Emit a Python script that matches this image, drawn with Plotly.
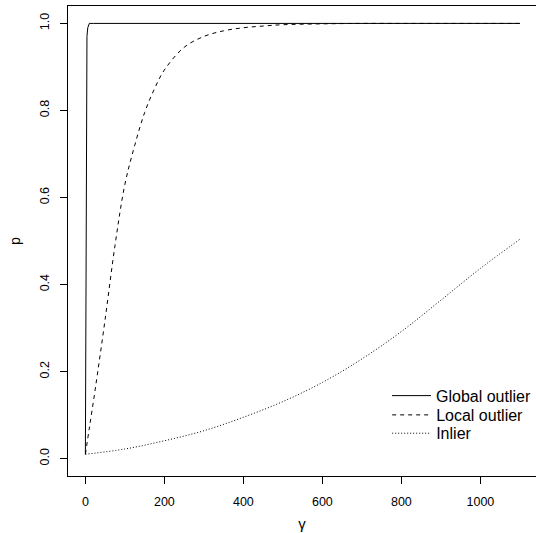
import plotly.graph_objects as go

# Data
global_gamma = [0, 1, 2, 3, 4, 6, 8, 10, 20, 100, 500, 1100]
global_p = [0.01, 0.30, 0.75, 0.93, 0.97, 0.99, 0.997, 1.0, 1.0, 1.0, 1.0, 1.0]

local_gamma = [0, 10, 25, 50, 75, 100, 125, 150, 175, 200, 250, 300, 350, 400,
               450, 500, 600, 700, 800, 900, 1000, 1100]
local_p = [0.01, 0.07, 0.16, 0.32, 0.49, 0.63, 0.72, 0.795, 0.85, 0.893, 0.945,
           0.970, 0.983, 0.990, 0.994, 0.997, 0.999, 1.0, 1.0, 1.0, 1.0, 1.0]

inlier_gamma = [0, 100, 200, 300, 400, 500, 600, 700, 800, 900, 1000, 1100]
inlier_p = [0.01, 0.022, 0.041, 0.064, 0.095, 0.131, 0.175, 0.229, 0.292,
            0.364, 0.437, 0.504]

x_ticks = [0, 200, 400, 600, 800, 1000]
y_ticks = [0.0, 0.2, 0.4, 0.6, 0.8, 1.0]
y_tick_labels = ["0.0", "0.2", "0.4", "0.6", "0.8", "1.0"]

series_names = ["Global outlier", "Local outlier", "Inlier"]

FONT = "Liberation Sans, Arial, Helvetica, sans-serif"

fig = go.Figure()
fig.add_trace(go.Scatter(x=global_gamma, y=global_p, mode="lines",
                         name=series_names[0], legend="legend",
                         line=dict(color="black", width=1, dash="solid")))
fig.add_trace(go.Scatter(x=local_gamma, y=local_p, mode="lines",
                         name=series_names[1], line_shape="spline",
                         legend="legend2",
                         line=dict(color="black", width=1, dash="4px,4px")))
fig.add_trace(go.Scatter(x=inlier_gamma, y=inlier_p, mode="lines",
                         name=series_names[2], line_shape="spline",
                         legend="legend3",
                         line=dict(color="black", width=1, dash="1px,2px")))

leg_common = dict(xanchor="left", yanchor="top", bgcolor="rgba(0,0,0,0)",
                  borderwidth=0, font=dict(size=16, family=FONT),
                  itemwidth=39)

fig.update_layout(
    width=536, height=533,
    margin=dict(l=68, r=0, t=6, b=57),
    paper_bgcolor="white", plot_bgcolor="white",
    font=dict(family=FONT, size=12, color="black"),
    showlegend=True,
    legend=dict(x=0.682, y=0.207, **leg_common),
    legend2=dict(x=0.682, y=0.166, **leg_common),
    legend3=dict(x=0.682, y=0.127, **leg_common),
    xaxis=dict(range=[-44, 1140.8], tickvals=x_ticks, ticks="outside",
               ticklen=7, tickcolor="black", showline=True, linecolor="black",
               linewidth=1, mirror=True, showgrid=False, zeroline=False,
               tickfont=dict(size=12.5), ticklabelstandoff=7, automargin=False,
               title=dict(text="γ", font=dict(size=15), standoff=10)),
    yaxis=dict(range=[-0.04, 1.04], tickvals=y_ticks, ticktext=y_tick_labels,
               ticks="outside", ticklen=7, tickcolor="black", showline=True,
               linecolor="black", linewidth=1, mirror=False, showgrid=False,
               zeroline=False, tickangle=-90, tickfont=dict(size=12.5),
               ticklabelstandoff=6, automargin=False,
               title=dict(text="p", font=dict(size=14), standoff=14)),
)

fig.write_html("out.html", config={"displayModeBar": False},
               post_script="document.body.style.margin='0';")
